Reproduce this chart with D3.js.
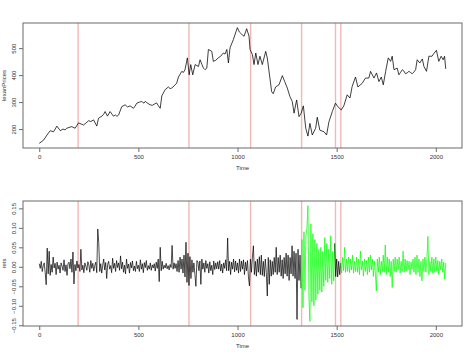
<!DOCTYPE html>
<html>
<head>
<meta charset="utf-8">
<script src="https://cdn.jsdelivr.net/npm/d3@7"></script>
<style>
  html, body { margin: 0; padding: 0; background: #fff; }
  svg { display: block; }
  text { font-family: "Liberation Sans", Arial, sans-serif; }
</style>
</head>
<body>
<script>
// ---------------- DATA ----------------
const priceTimes = [0,22,39,55,72,89,106,120,130,139,150,164,181,198,223,235,249,260,274,290,299,316,325,332,344,357,374,385,392,400,416,433,445,458,475,483,492,505,517,528,535,542,559,570,584,592,601,610,618,635,651,660,668,680,693,702,719,727,735,747,756,764,774,786,803,811,820,828,836,845,853,870,878,890,903,915,928,937,946,954,962,979,999,1009,1020,1033,1046,1058,1063,1075,1083,1092,1103,1113,1125,1142,1150,1172,1180,1192,1200,1209,1226,1238,1251,1264,1276,1285,1298,1310,1321,1332,1344,1355,1365,1377,1394,1402,1415,1436,1449,1461,1478,1494,1506,1523,1536,1553,1567,1578,1595,1607,1629,1645,1662,1671,1688,1701,1713,1725,1735,1747,1760,1772,1780,1789,1805,1814,1822,1831,1839,1847,1855,1864,1872,1881,1890,1898,1906,1919,1932,1940,1953,1965,1981,1990,2003,2015,2027,2037,2044,2050];
const prices = [147,159,178,194,190,211,194,200,197,203,206,209,203,223,215,222,231,228,234,211,240,248,255,265,248,265,248,252,247,252,283,290,282,286,277,285,296,300,302,296,303,298,290,288,294,297,286,277,323,346,356,350,352,360,370,393,414,410,420,464,401,439,401,439,432,457,440,426,420,426,495,488,451,455,464,470,482,478,495,445,501,532,576,560,552,544,572,544,495,476,439,482,439,470,439,488,464,339,331,356,360,364,398,376,352,321,302,259,308,246,259,286,203,174,221,178,203,244,196,190,178,227,265,296,283,271,286,327,315,358,393,356,370,389,389,414,389,408,376,393,364,414,464,451,470,420,426,401,410,420,415,405,408,414,410,405,412,420,457,445,460,432,414,470,470,480,492,451,470,457,470,423];

const retStep = 5;
const rets = [
  0.008,-0.004,0.014,-0.012,0.003,0.010,-0.015,-0.046,0.048,-0.018,
  0.040,-0.022,0.006,-0.014,0.025,-0.003,0.009,-0.020,0.012,-0.006,
  0.004,-0.016,0.010,0.002,-0.009,0.018,-0.012,0.005,-0.022,0.008,
  0.012,-0.005,0.020,-0.014,0.038,-0.044,0.006,-0.010,0.015,-0.003,
  0.006,-0.012,0.045,-0.008,0.004,-0.015,0.010,0.002,-0.009,0.013,
  0.005,-0.014,0.016,-0.004,0.009,-0.011,0.003,0.012,-0.015,0.097,
  0.062,-0.012,0.008,-0.016,0.004,0.020,-0.008,0.011,-0.030,0.006,
  0.014,-0.006,0.003,-0.015,0.022,-0.004,0.009,-0.012,0.016,-0.002,
  0.010,-0.009,0.028,-0.005,0.012,-0.014,0.004,-0.018,0.020,-0.004,
  0.007,-0.016,0.011,-0.003,0.015,-0.010,0.002,-0.012,0.014,-0.005,
  0.004,-0.012,0.018,-0.006,0.008,-0.015,0.011,-0.002,0.016,-0.009,
  0.003,-0.006,0.010,-0.009,0.005,-0.003,0.008,-0.011,0.012,-0.004,
  0.020,-0.038,0.050,-0.010,0.014,-0.006,0.004,-0.003,0.009,-0.005,
  0.003,-0.008,0.006,-0.002,0.055,-0.006,0.010,-0.004,0.008,-0.012,
  0.016,-0.014,0.025,-0.006,0.020,-0.016,0.030,-0.026,0.063,-0.040,
  0.035,-0.048,0.026,-0.030,0.018,-0.014,0.010,-0.020,-0.050,0.016,
  0.012,-0.010,0.015,-0.045,0.020,-0.006,0.010,-0.014,0.016,-0.004,
  0.008,-0.016,0.013,-0.010,0.004,-0.020,0.015,-0.007,0.010,-0.005,
  0.013,-0.006,0.016,-0.011,0.007,-0.016,0.010,-0.004,0.018,-0.010,
  0.074,-0.010,0.014,-0.020,0.012,-0.006,0.020,-0.013,0.015,-0.009,
  0.010,-0.016,0.020,-0.012,0.015,-0.006,0.018,-0.020,0.012,-0.010,
  0.016,-0.026,-0.049,0.020,-0.014,0.025,0.054,-0.020,0.014,-0.024,
  0.020,-0.014,0.026,-0.020,0.030,-0.022,0.014,-0.025,0.020,-0.014,
  -0.075,0.024,-0.045,0.018,-0.024,0.014,-0.020,0.024,-0.014,0.050,
  -0.020,0.024,-0.014,0.030,-0.024,0.018,-0.030,0.024,-0.018,0.035,
  -0.024,0.030,-0.035,0.024,-0.018,0.054,-0.024,0.040,-0.030,0.035,
  -0.135,0.045,-0.035,0.030,-0.055,0.070,-0.105,0.090,-0.060,0.080,
  0.100,0.157,-0.080,-0.140,0.110,-0.090,0.085,-0.100,0.070,-0.085,
  0.060,-0.070,0.045,-0.060,0.050,-0.065,0.040,-0.050,0.075,-0.035,
  0.060,-0.040,0.045,-0.030,0.080,-0.045,0.040,-0.036,0.060,-0.025,
  0.020,-0.026,0.014,-0.020,0.010,-0.016,0.024,-0.010,0.050,-0.014,
  0.020,-0.012,0.025,-0.015,0.020,-0.008,0.030,-0.016,0.014,-0.012,
  0.025,-0.014,0.020,-0.020,0.040,-0.008,0.015,-0.024,0.020,-0.012,
  0.016,-0.020,0.025,-0.014,0.030,-0.008,0.020,-0.025,0.014,-0.016,
  -0.062,0.020,-0.014,0.025,-0.020,0.014,-0.012,0.030,-0.014,0.056,
  -0.020,0.025,-0.014,0.020,-0.025,0.014,-0.053,0.020,-0.012,0.025,
  -0.014,0.020,-0.008,0.025,-0.016,0.014,-0.012,0.040,-0.014,0.020,
  -0.012,0.016,-0.008,0.014,-0.020,0.012,-0.006,0.020,-0.014,0.025,
  -0.020,0.030,-0.014,0.020,-0.025,0.014,-0.036,0.020,-0.012,0.025,
  -0.014,0.020,0.078,-0.020,0.014,-0.012,0.025,-0.016,0.020,-0.014,
  0.025,-0.012,0.016,-0.020,0.014,-0.008,0.020,-0.014,0.012,-0.032,
  0.010
];

// regime breaks (red vertical lines)
const breaks = [196, 755, 1066, 1323, 1494, 1521];
// green periods for the returns
const greenPeriods = [[1323, 1494], [1521, 2050]];

const xTicks = [0, 500, 1000, 1500, 2000];
const priceTicks = [200, 300, 400, 500];
const retTicks = [-0.15, -0.10, -0.05, 0.00, 0.05, 0.10, 0.15];
const priceLabel = "lexanPrices";
const retLabel = "rets";
const xLabel = "Time";

// ---------------- LAYOUT ----------------
const W = 474, H = 355;
const plotL = 23, plotR = 462;
const panels = [{top: 23, bottom: 148}, {top: 201, bottom: 326}];
const fontSize = 6;
const textCol = "#333";
const boxCol = "#6a6a6a";
const breakCol = "#f2b8b8";

const svg = d3.select("body").append("svg").attr("width", W).attr("height", H);

function padded(ext) {
  const r = ext[1] - ext[0];
  return [ext[0] - 0.04 * r, ext[1] + 0.04 * r];
}

const retData = rets.map((v, i) => ({t: i * retStep, v}));
const priceData = priceTimes.map((t, i) => ({t, v: prices[i]}));

const tExt = d3.extent(retData, d => d.t);
const x = d3.scaleLinear().domain(padded(tExt)).range([plotL, plotR]);

function drawPanel(p, yDomain, yTicks, yFmt, yTitle) {
  const y = d3.scaleLinear().domain(yDomain).range([p.bottom, p.top]);
  const g = svg.append("g");

  const cid = "clip" + p.top;
  svg.append("clipPath").attr("id", cid).append("rect")
    .attr("x", plotL).attr("y", p.top).attr("width", plotR - plotL).attr("height", p.bottom - p.top);

  g.append("g").selectAll("line").data(breaks).join("line")
    .attr("x1", d => x(d)).attr("x2", d => x(d))
    .attr("y1", p.top).attr("y2", p.bottom)
    .attr("stroke", breakCol).attr("stroke-width", 1.4);

  const xa = g.append("g").attr("transform", `translate(0,${p.bottom})`)
    .call(d3.axisBottom(x).tickValues(xTicks).tickSize(4).tickPadding(3).tickFormat(d3.format("d")));
  xa.select(".domain").remove();
  xa.selectAll("line").attr("stroke", boxCol);
  xa.selectAll("text").attr("font-size", fontSize).attr("fill", textCol)
    .attr("font-family", "Liberation Sans, Arial, sans-serif");

  const ya = g.append("g").attr("transform", `translate(${plotL},0)`)
    .call(d3.axisLeft(y).tickValues(yTicks).tickSize(4).tickFormat(yFmt));
  ya.select(".domain").remove();
  ya.selectAll("line").attr("stroke", boxCol);
  ya.selectAll("text")
    .attr("font-size", fontSize).attr("fill", textCol)
    .attr("font-family", "Liberation Sans, Arial, sans-serif")
    .attr("x", null).attr("dy", null)
    .attr("text-anchor", "middle")
    .attr("transform", "translate(-7,0) rotate(-90)");

  g.append("rect").attr("x", plotL).attr("y", p.top)
    .attr("width", plotR - plotL).attr("height", p.bottom - p.top)
    .attr("fill", "none").attr("stroke", boxCol).attr("stroke-width", 1);

  g.append("text").attr("x", (plotL + plotR) / 2).attr("y", p.bottom + 22)
    .attr("text-anchor", "middle").attr("font-size", fontSize).attr("fill", textCol).text(xLabel);
  g.append("text")
    .attr("transform", `translate(6,${(p.top + p.bottom) / 2}) rotate(-90)`)
    .attr("text-anchor", "middle").attr("font-size", fontSize).attr("fill", textCol).text(yTitle);

  return {y, g, cid};
}

// ---- top: prices ----
const topPanel = drawPanel(panels[0], padded(d3.extent(priceData, d => d.v)), priceTicks, d3.format("d"), priceLabel);
topPanel.g.append("path").datum(priceData)
  .attr("clip-path", `url(#${topPanel.cid})`)
  .attr("fill", "none").attr("stroke", "#000").attr("stroke-width", 0.75)
  .attr("stroke-linejoin", "round")
  .attr("d", d3.line().x(d => x(d.t)).y(d => topPanel.y(d.v)));

// ---- bottom: returns ----
const botPanel = drawPanel(panels[1], padded(d3.extent(retData, d => d.v)), retTicks, d3.format(".2f"), retLabel);
const isGreen = t => greenPeriods.some(([a, b]) => t >= a && t <= b);
const segs = [];
let cur = null;
retData.forEach(d => {
  const c = isGreen(d.t) ? "#00ff00" : "#000000";
  if (!cur || cur.c !== c) {
    const prev = cur ? cur.pts[cur.pts.length - 1] : null;
    cur = {c, pts: prev ? [prev] : []};
    segs.push(cur);
  }
  cur.pts.push(d);
});
const retLine = d3.line().x(d => x(d.t)).y(d => botPanel.y(d.v));
botPanel.g.append("g").selectAll("path").data(segs).join("path")
  .attr("clip-path", `url(#${botPanel.cid})`)
  .attr("fill", "none").attr("stroke", d => d.c).attr("stroke-width", 0.7)
  .attr("d", d => retLine(d.pts));
</script>
</body>
</html>
